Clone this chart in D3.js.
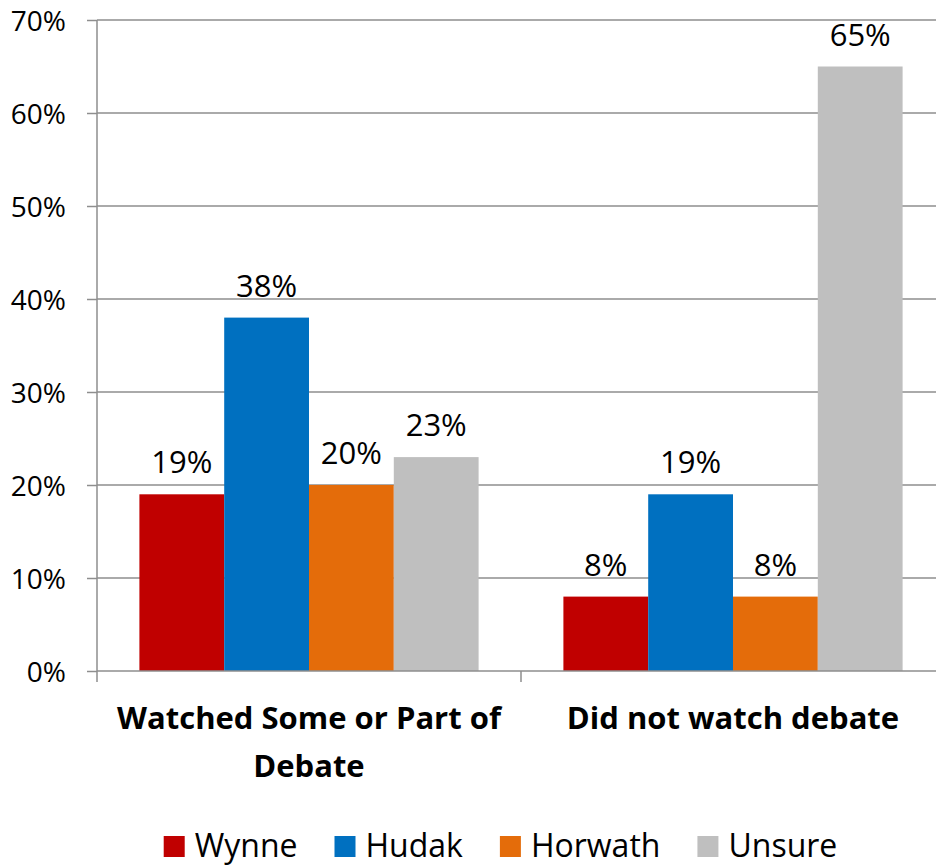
<!DOCTYPE html>
<html>
<head>
<meta charset="utf-8">
<script src="https://cdn.jsdelivr.net/npm/d3@7"></script>
<style>
  html, body { margin: 0; padding: 0; background: #fff; }
  svg { display: block; font-family: "Open Sans", "Noto Sans", sans-serif; }
</style>
</head>
<body>
<svg id="chart" width="936" height="866"></svg>
<script>
// ---- data ----
const categories = ["Watched Some or Part of Debate", "Did not watch debate"];
const seriesNames = ["Wynne", "Hudak", "Horwath", "Unsure"];
const seriesColors = ["#C00000", "#0070C0", "#E46C0A", "#BFBFBF"];
const wynne = [0.19, 0.08];
const hudak = [0.38, 0.19];
const horwath = [0.20, 0.08];
const unsure = [0.23, 0.65];
const yTicks = [0, 0.1, 0.2, 0.3, 0.4, 0.5, 0.6, 0.7];

const seriesValues = [wynne, hudak, horwath, unsure];

// ---- layout ----
const svg = d3.select("#chart");
const plot = { left: 97, right: 945, top: 20, bottom: 671 };
const gridColor = "#8e8e8e";

const y = d3.scaleLinear().domain([0, 0.7]).range([plot.bottom, plot.top]);
const x0 = d3.scaleBand().domain(categories).range([plot.left, plot.right]).paddingInner(0).paddingOuter(0);
const x1 = d3.scaleBand().domain(seriesNames).range([0, x0.bandwidth()]).paddingInner(0).paddingOuter(0.5);
const color = d3.scaleOrdinal().domain(seriesNames).range(seriesColors);

// gridlines
svg.append("g").selectAll("line")
  .data(yTicks.filter(d => d > 0))
  .join("line")
  .attr("x1", plot.left).attr("x2", 936)
  .attr("y1", d => y(d)).attr("y2", d => y(d))
  .attr("stroke", gridColor).attr("stroke-width", 1.5);

// y axis
const yAxis = d3.axisLeft(y).tickValues(yTicks).tickFormat(d3.format(".0%")).tickSize(10).tickPadding(21);
const gy = svg.append("g").attr("transform", `translate(${plot.left},0)`).call(yAxis);
gy.select(".domain").remove();
gy.selectAll(".tick line").attr("stroke", gridColor).attr("stroke-width", 1.5);
gy.selectAll(".tick text").attr("fill", "#000").style("font-size", "28px").style("font-family", "'Open Sans', sans-serif").attr("dy", "0.36em");
svg.append("line")
  .attr("x1", plot.left).attr("x2", plot.left)
  .attr("y1", plot.top).attr("y2", plot.bottom + 11)
  .attr("stroke", gridColor).attr("stroke-width", 1.5);

// bars
const groups = svg.append("g").selectAll("g")
  .data(categories)
  .join("g")
  .attr("transform", d => `translate(${x0(d)},0)`);

groups.selectAll("rect")
  .data((c, ci) => seriesNames.map((s, si) => ({ s, v: seriesValues[si][ci] })))
  .join("rect")
  .attr("x", d => x1(d.s))
  .attr("width", x1.bandwidth())
  .attr("y", d => y(d.v))
  .attr("height", d => y(0) - y(d.v))
  .attr("fill", d => color(d.s));

groups.selectAll("text.lbl")
  .data((c, ci) => seriesNames.map((s, si) => ({ s, v: seriesValues[si][ci] })))
  .join("text")
  .attr("class", "lbl")
  .attr("x", d => x1(d.s) + x1.bandwidth() / 2)
  .attr("y", d => y(d.v) - 21)
  .attr("text-anchor", "middle")
  .style("font-size", "31px")
  .attr("fill", "#000")
  .text(d => d3.format(".0%")(d.v));

// x axis
svg.append("line")
  .attr("x1", plot.left).attr("x2", 936)
  .attr("y1", plot.bottom).attr("y2", plot.bottom)
  .attr("stroke", gridColor).attr("stroke-width", 1.5);
const xAxis = d3.axisBottom(x0).tickSize(0).tickFormat("");
const gx = svg.append("g").attr("transform", `translate(0,${plot.bottom})`).call(xAxis);
gx.select(".domain").remove();
gx.selectAll(".tick line").remove();
// category separator ticks
svg.append("g").selectAll("line")
  .data(categories.slice(1))
  .join("line")
  .attr("x1", d => x0(d)).attr("x2", d => x0(d))
  .attr("y1", plot.bottom).attr("y2", plot.bottom + 11)
  .attr("stroke", gridColor).attr("stroke-width", 1.5);

// category labels with wrapping
const catLabels = svg.append("g").selectAll("text")
  .data(categories)
  .join("text")
  .attr("x", d => x0(d) + x0.bandwidth() / 2)
  .attr("y", 729)
  .attr("text-anchor", "middle")
  .style("font-size", "31px")
  .style("font-weight", "bold")
  .attr("fill", "#000");

catLabels.each(function(d) {
  const t = d3.select(this);
  const cx = +t.attr("x");
  const words = d.split(" ");
  let line = [];
  let lineNo = 0;
  let tspan = t.append("tspan").attr("x", cx).attr("dy", 0);
  words.forEach(w => {
    line.push(w);
    tspan.text(line.join(" "));
    if (tspan.node().getComputedTextLength() > 400 && line.length > 1) {
      line.pop();
      tspan.text(line.join(" "));
      line = [w];
      lineNo++;
      tspan = t.append("tspan").attr("x", cx).attr("dy", 48).text(w);
    }
  });
});

// legend
const legend = svg.append("g");
const items = legend.selectAll("g")
  .data(seriesNames)
  .join("g");
items.append("rect")
  .attr("width", 21).attr("height", 21)
  .attr("y", 836)
  .attr("fill", d => color(d));
items.append("text")
  .attr("y", 857)
  .style("font-size", "32px")
  .attr("fill", "#000")
  .text(d => d);
let widths = [];
items.select("text").each(function() { widths.push(this.getComputedTextLength()); });
const total = widths.reduce((a, w) => a + 31 + w, 0) + 37 * (widths.length - 1);
let cx = 500.5 - total / 2;
items.each(function(d, i) {
  const g = d3.select(this);
  g.select("rect").attr("x", cx);
  g.select("text").attr("x", cx + 31);
  cx += 31 + widths[i] + 37;
});
</script>
</body>
</html>
